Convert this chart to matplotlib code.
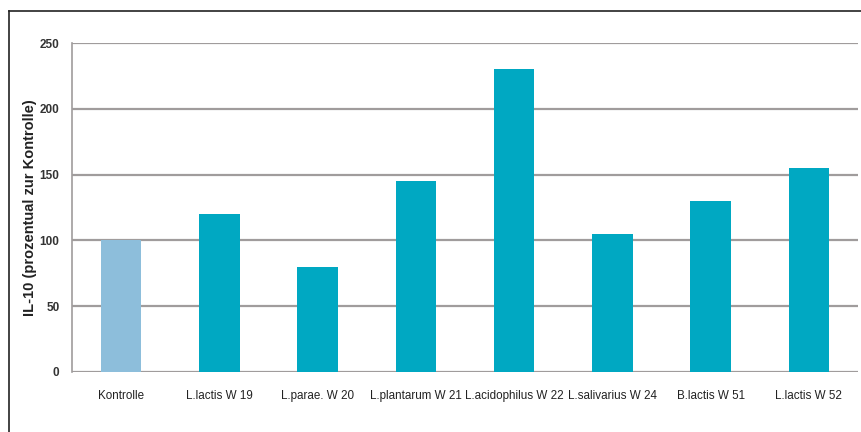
import matplotlib.pyplot as plt
from matplotlib.lines import Line2D

categories = ['Kontrolle', 'L.lactis W 19', 'L.parae. W 20', 'L.plantarum W 21',
              'L.acidophilus W 22', 'L.salivarius W 24', 'B.lactis W 51', 'L.lactis W 52']
values = [100, 120, 80, 145, 230, 105, 130, 155]
yticks = [0, 50, 100, 150, 200, 250]

plt.rcParams['font.family'] = ['Liberation Sans', 'DejaVu Sans']

fig = plt.figure(figsize=(8.61, 4.32), dpi=100)
ax = fig.add_axes([72 / 861, 1 - 372 / 432, 786 / 861, 329 / 432])

colors = ['#8dbedb'] + ['#00a8c2'] * (len(values) - 1)
x = list(range(len(categories)))
ax.bar(x, values, width=0.41, color=colors, zorder=3)

ax.set_xlim(-0.5, len(categories) - 0.5)
ax.set_ylim(0, 250)
ax.set_yticks(yticks)
ax.yaxis.grid(True, color='#a09c9c', linewidth=1.6, zorder=0)
ax.set_xticks(x)
ax.set_xticklabels(categories, fontsize=8.4, color='#222222')
ax.tick_params(axis='both', length=0)
ax.tick_params(axis='y', labelsize=8.5, pad=9, labelcolor='#333333')
ax.tick_params(axis='x', pad=13)
for lab in ax.get_yticklabels():
    lab.set_fontweight('bold')

for s in ['top', 'right', 'bottom']:
    ax.spines[s].set_visible(False)
ax.spines['left'].set_color('#a09c9c')
ax.spines['left'].set_linewidth(1.2)

ax.set_ylabel('IL-10 (prozentual zur Kontrolle)', fontsize=10.5, fontweight='bold',
              labelpad=2, color='#222222')

# outer frame lines (top and left)
fig.add_artist(Line2D([9 / 861, 9 / 861], [0, 1 - 11 / 432], transform=fig.transFigure,
                      color='#222222', linewidth=1.2))
fig.add_artist(Line2D([9 / 861, 1], [1 - 11 / 432, 1 - 11 / 432], transform=fig.transFigure,
                      color='#222222', linewidth=1.2))

plt.savefig('out.png', dpi=100)
